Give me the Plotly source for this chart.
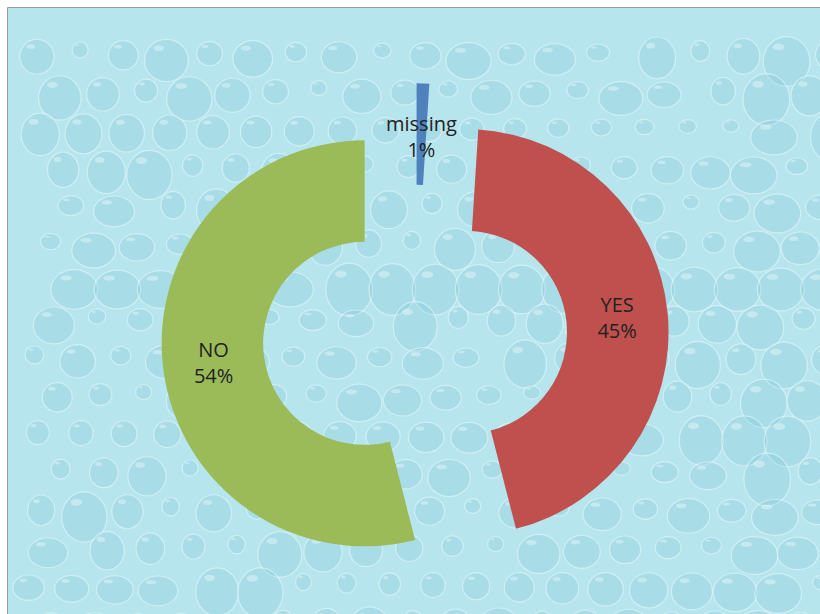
import math
import plotly.graph_objects as go

# ---- data ----
labels = ["missing", "YES", "NO"]
values = [1, 45, 54]
colors = ["#4F81BD", "#C0504D", "#9BBB59"]
pulls = [0.25, 0.25, 0.25]

W, H = 820, 614
CX, CY = 415.0, 337.0          # pie centre in pixels (from top-left)
HALF = 253.75                  # half size of pie domain box in pixels
HOLE = 0.5
FONT = dict(family="Open Sans", size=20, color="#222222")

dom_x = [(CX - HALF) / W, (CX + HALF) / W]
dom_y = [(H - CY - HALF) / H, (H - CY + HALF) / H]

total = sum(values)
texts = ["%s<br>%d%%" % (lab, round(100 * v / total)) for lab, v in zip(labels, values)]

# slices too thin for inside text get an annotation at the same spot
inside_tpl = []
annotations = []
R = 2 * HALF / (2 + 2 * max(pulls))
start = 0.0
for lab, v, p, t in zip(labels, values, pulls, texts):
    ang = 360.0 * v / total
    mid = math.radians(start + ang / 2)
    start += ang
    if v / total < 0.05:
        inside_tpl.append("")
        rr = R * (p + (1 + HOLE) / 2)
        px = CX + rr * math.sin(mid)
        py = CY - rr * math.cos(mid) + 2
        annotations.append(dict(
            x=px / W, y=1 - py / H, xref="paper", yref="paper",
            text=t, showarrow=False, xanchor="center", yanchor="middle",
            font=FONT,
        ))
    else:
        inside_tpl.append(t)

fig = go.Figure(go.Pie(
    labels=labels, values=values, hole=HOLE, sort=False,
    direction="clockwise", rotation=0, pull=pulls,
    marker=dict(colors=colors, line=dict(width=0)),
    texttemplate=inside_tpl, textposition="inside",
    insidetextorientation="horizontal",
    textfont=FONT,
    domain=dict(x=dom_x, y=dom_y), showlegend=False, hoverinfo="label+percent",
))


def px2paper(x, y):
    return x / W, 1 - y / H


# background panel (subtle water-drop texture imitation)
shapes = [dict(
    type="rect", xref="paper", yref="paper",
    x0=7.5 / W, x1=1.01, y0=-0.01, y1=1 - 7.5 / H,
    fillcolor="#b6e5ed", line=dict(color="#9a9a9a", width=1), layer="below",
)]

step_x, step_y = 44, 38
row = 0
y = 18
while y < H + 30:
    x = 12 + (22 if row % 2 else 0)
    col = 0
    while x < W + 30:
        h = ((col * 73 + row * 151 + col * row * 29) % 23) / 23.0
        h2 = ((col * 37 + row * 97 + 11) % 19) / 19.0
        rx = 8 + 16 * h
        ry = rx * (0.75 + 0.4 * h2)
        ox = (h2 - 0.5) * 16
        oy = (h - 0.5) * 12
        cxp, cyp = x + ox, y + oy
        if cxp - rx > 8 and cyp - ry > 8:
            x0, y1 = px2paper(cxp - rx, cyp - ry)
            x1, y0 = px2paper(cxp + rx, cyp + ry)
            shapes.append(dict(
                type="circle", xref="paper", yref="paper",
                x0=x0, x1=x1, y0=y0, y1=y1, layer="below",
                fillcolor="rgba(100,180,205,0.16)",
                line=dict(color="rgba(235,250,252,0.55)", width=1.2),
            ))
            hx0, hy1 = px2paper(cxp - rx * 0.6, cyp - ry * 0.72)
            hx1, hy0 = px2paper(cxp - rx * 0.1, cyp - ry * 0.45)
            shapes.append(dict(
                type="circle", xref="paper", yref="paper",
                x0=hx0, x1=hx1, y0=hy0, y1=hy1, layer="below",
                fillcolor="rgba(255,255,255,0.35)", line=dict(width=0),
            ))
        x += step_x
        col += 1
    y += step_y
    row += 1

fig.update_layout(
    width=W, height=H, margin=dict(l=0, r=0, t=0, b=0),
    paper_bgcolor="white", plot_bgcolor="rgba(0,0,0,0)",
    uniformtext=dict(mode="show", minsize=20),
    shapes=shapes, annotations=annotations,
)

fig.write_html("out.html")
